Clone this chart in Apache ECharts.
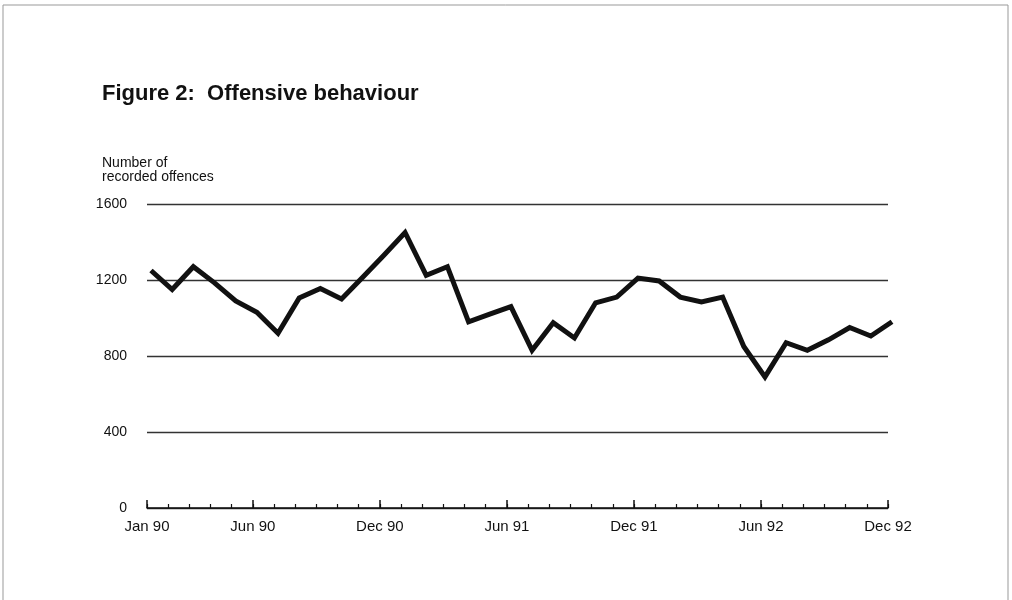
<!DOCTYPE html>
<html>
<head>
<meta charset="utf-8">
<script src="https://cdn.jsdelivr.net/npm/echarts@6/dist/echarts.min.js"></script>
<style>html,body{margin:0;padding:0;background:#fff}#c{width:1012px;height:600px}</style>
</head>
<body>
<div id="c"></div>
<script>
var monthNames = ['Jan','Feb','Mar','Apr','May','Jun','Jul','Aug','Sep','Oct','Nov','Dec'];
var years = ['90','91','92'];
var labelIndices = [0, 5, 11, 17, 23, 29, 35];
var yTicks = [0, 400, 800, 1200, 1600];
var offences = [
  1250, 1150, 1270, 1185, 1090, 1030, 920, 1105, 1155, 1100, 1215, 1330,
  1450, 1225, 1270, 980, 1020, 1060, 830, 975, 895, 1080, 1110, 1210,
  1195, 1110, 1085, 1110, 850, 690, 870, 830, 885, 950, 905, 980
];
var categories = [];
years.forEach(function (y) { monthNames.forEach(function (m) { categories.push(m + ' ' + y); }); });

var font = "'Liberation Sans', Arial, Helvetica, sans-serif";
var chart = echarts.init(document.getElementById('c'), null, {renderer: 'canvas'});
var isLabel = function (i) { return labelIndices.indexOf(i) >= 0; };

chart.setOption({
  animation: false,
  backgroundColor: '#fff',
  title: [
    {text: 'Figure 2:  Offensive behaviour', left: 97, top: 78,
     textStyle: {fontFamily: font, fontSize: 22, fontWeight: 'bold', color: '#111'}},
    {text: 'Number of\nrecorded offences', left: 97, top: 151,
     textStyle: {fontFamily: font, fontSize: 14, fontWeight: 'normal', color: '#111', lineHeight: 14}}
  ],
  graphic: [{
    type: 'polyline', silent: true,
    shape: {points: [[3, 605], [3, 5], [1008, 5], [1008, 605]]},
    style: {fill: null, stroke: '#999', lineWidth: 1}
  }],
  grid: [
    {left: 147, right: 124, top: 204, bottom: 92},
    {left: 151, right: 120, top: 204, bottom: 92}
  ],
  xAxis: [
    {gridIndex: 0, type: 'category', data: categories, boundaryGap: false,
     axisLine: {show: true, lineStyle: {color: '#111', width: 1.5}},
     axisTick: {show: true, inside: true, length: 4, interval: 0, lineStyle: {color: '#111', width: 1.2}},
     axisLabel: {show: true, interval: function (i) { return isLabel(i); }, margin: 11,
                 fontFamily: font, fontSize: 15, color: '#111'},
     splitLine: {show: false}},
    {gridIndex: 0, type: 'category', data: categories, boundaryGap: false, position: 'bottom',
     axisLine: {show: false},
     axisTick: {show: true, inside: true, length: 8, interval: function (i) { return isLabel(i); },
                lineStyle: {color: '#111', width: 1.5}},
     axisLabel: {show: false}, splitLine: {show: false}},
    {gridIndex: 1, type: 'category', data: categories, boundaryGap: false, show: false}
  ],
  yAxis: [
    {gridIndex: 0, type: 'value', min: yTicks[0], max: yTicks[yTicks.length - 1], interval: 400,
     axisLine: {show: false}, axisTick: {show: false},
     axisLabel: {margin: 20, fontFamily: font, fontSize: 14, color: '#111',
                 formatter: function (v) { return String(v); }},
     splitLine: {show: true, lineStyle: {color: '#333', width: 1.4}}},
    {gridIndex: 1, type: 'value', min: yTicks[0], max: yTicks[yTicks.length - 1], show: false}
  ],
  series: [{
    type: 'line', xAxisIndex: 2, yAxisIndex: 1, data: offences,
    symbol: 'none', smooth: false,
    lineStyle: {color: '#111', width: 5, join: 'miter'}
  }]
});
</script>
</body>
</html>
